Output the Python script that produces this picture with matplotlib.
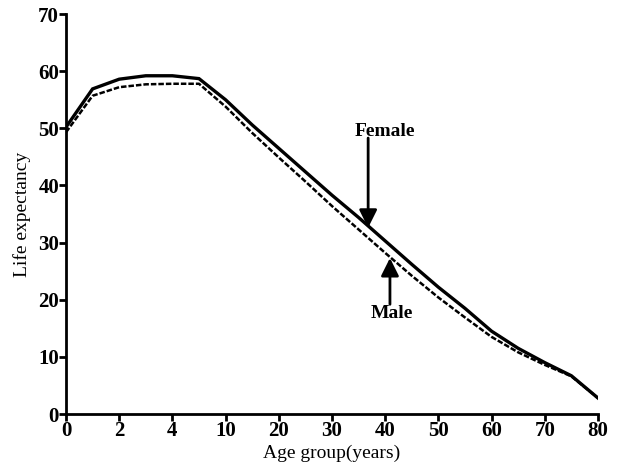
import numpy as np
import matplotlib
matplotlib.use("Agg")
import matplotlib.pyplot as plt

# age groups (years) and life expectancy
ages = [0, 1, 2, 3, 4, 5, 10, 15, 20, 25, 30, 35, 40, 45, 50, 55, 60, 65, 70, 75, 80]
female = [50.2, 56.9, 58.6, 59.2, 59.2, 58.7, 55.0, 50.6, 46.5, 42.4, 38.3, 34.4,
          30.3, 26.2, 22.2, 18.5, 14.5, 11.5, 9.0, 6.7, 2.8]
male = [49.3, 55.7, 57.2, 57.7, 57.8, 57.8, 53.8, 49.2, 44.9, 40.7, 36.4, 32.3,
        28.2, 24.2, 20.4, 16.9, 13.5, 10.8, 8.6, 6.6, 2.8]
xticks = [0, 2, 4, 10, 20, 30, 40, 50, 60, 70, 80]

# piecewise axis: 0-5 stretched, then 10 years per tick
brk_age = np.array([0, 5, 10, 80])
brk_pos = np.array([0, 2.5, 3, 10])


def fwd(a):
    return np.interp(a, brk_age, brk_pos)


def inv(p):
    return np.interp(p, brk_pos, brk_age)


plt.rcParams['font.family'] = ['Liberation Serif', 'DejaVu Serif']

fig = plt.figure(figsize=(6.19, 4.70), dpi=100)
ax = fig.add_axes([0.1066, 0.1191, 0.8594, 0.851])
ax.set_xscale('function', functions=(fwd, inv))

ax.plot(ages, female, color='black', lw=2.4, solid_joinstyle='miter')
ax.plot(ages, male, color='black', lw=1.8, dashes=(2.2, 0.8))

ax.set_xlim(0, 80)
ax.set_ylim(0, 70)
ax.set_xticks(xticks)
ax.set_xticklabels([str(t) for t in xticks])
ax.set_yticks(range(0, 71, 10))
ax.minorticks_off()

for s in ['top', 'right']:
    ax.spines[s].set_visible(False)
for s in ['left', 'bottom']:
    ax.spines[s].set_linewidth(2)
ax.tick_params(width=2, length=5, labelsize=15, pad=0)
for lab in ax.get_xticklabels() + ax.get_yticklabels():
    lab.set_fontweight('bold')

ax.set_xlabel('Age group(years)', fontsize=14, labelpad=3)
ax.set_ylabel('Life expectancy', fontsize=14, labelpad=5)

# arrows pointing to the curves
arrow = dict(arrowstyle='-|>', lw=2, color='black', mutation_scale=27, shrinkA=0, shrinkB=0)
ax.annotate('', xy=(36.8, 32.6), xytext=(36.8, 48.3), arrowprops=arrow)
ax.text(40.0, 49.4, 'Female', ha='center', va='center', fontsize=14, fontweight='bold')
ax.annotate('', xy=(40.9, 27.3), xytext=(40.9, 19.2), arrowprops=arrow)
ax.text(41.3, 17.6, 'Male', ha='center', va='center', fontsize=14, fontweight='bold')

fig.savefig('out.png', dpi=100)
